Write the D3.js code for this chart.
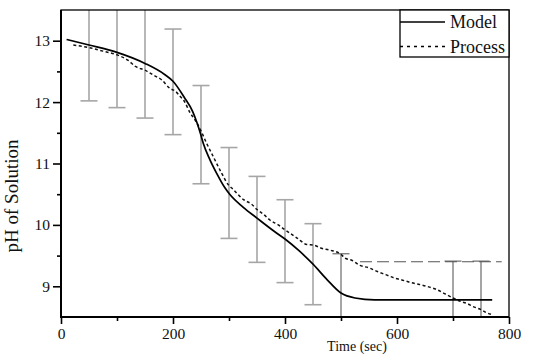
<!DOCTYPE html>
<html>
<head>
<meta charset="utf-8">
<script src="https://cdn.jsdelivr.net/npm/d3@7"></script>
<style>
  body { margin: 0; background: #fff; }
  svg text { font-family: "Liberation Serif", "Times New Roman", serif !important; fill: #111; }
</style>
</head>
<body>
<div class="container"></div>
<script>
var width = 533;
var height = 364;
var margin = {top: 10, right: 24, bottom: 47, left: 61};

// model curve
var modelTime = [10, 50, 100, 150, 185, 200, 220, 235, 243, 249, 254, 266, 278, 293, 302, 325, 350, 380, 400, 425, 450, 475, 500, 525, 560, 600, 700, 770];
var modelPH = [13.02, 12.93, 12.81, 12.63, 12.45, 12.34, 12.08, 11.85, 11.66, 11.49, 11.33, 11.06, 10.84, 10.60, 10.49, 10.29, 10.11, 9.90, 9.77, 9.58, 9.36, 9.11, 8.89, 8.81, 8.78, 8.78, 8.78, 8.78];

// process measurements
var procTime = [22, 49, 75, 100, 120, 133, 150, 165, 180, 195, 204, 213, 219, 231, 240, 249, 260, 272, 287, 300, 305, 326, 340, 350, 362, 373, 388, 400, 421, 439, 451, 465, 480, 500, 507, 520, 534, 550, 565, 580, 594, 610, 625, 640, 653, 670, 685, 700, 712, 725, 736, 750, 760, 769];
var procPH = [12.93, 12.89, 12.83, 12.77, 12.68, 12.58, 12.52, 12.44, 12.36, 12.22, 12.18, 12.09, 12.03, 11.82, 11.70, 11.55, 11.33, 11.11, 10.84, 10.64, 10.60, 10.41, 10.34, 10.25, 10.17, 10.08, 10.00, 9.92, 9.79, 9.68, 9.67, 9.62, 9.59, 9.52, 9.46, 9.42, 9.34, 9.30, 9.24, 9.19, 9.14, 9.10, 9.06, 9.03, 9.00, 8.95, 8.88, 8.81, 8.76, 8.72, 8.67, 8.62, 8.57, 8.54];

// error bars
var errTime = [50, 100, 150, 200, 250, 300, 350, 400, 450, 500, 700, 750];
var errHigh = [13.9, 13.75, 13.6, 13.19, 12.27, 11.26, 10.79, 10.41, 10.02, 9.53, 9.41, 9.41];
var errLow = [12.02, 11.91, 11.74, 11.47, 10.67, 9.78, 9.39, 9.06, 8.70, 8.3, 8.3, 8.3];

// dashed limit line
var limitTime = [534, 787];
var limitPH = 9.40;

var xTicks = [0, 200, 400, 600, 800];
var xMinor = [100, 300, 500, 700];
var yTicks = [9, 10, 11, 12, 13];
var yMinor = [9.5, 10.5, 11.5, 12.5];
var legendLabels = ["Model", "Process"];

var serif = "'Liberation Serif', 'Times New Roman', serif";
var xScale = d3.scaleLinear().domain([0, 800]).range([margin.left, width - margin.right]);
var yScale = d3.scaleLinear().domain([8.5, 13.5]).range([height - margin.bottom, margin.top]);

var svg = d3.select(".container")
  .append("svg")
  .attr("width", width).attr("height", height);

svg.append("defs").append("clipPath").attr("id", "plot-clip")
  .append("rect")
  .attr("x", margin.left).attr("y", margin.top)
  .attr("width", width - margin.left - margin.right)
  .attr("height", height - margin.top - margin.bottom);

var plot = svg.append("g").attr("clip-path", "url(#plot-clip)");

//-----------------------------------------
// 1. ERROR BARS
var capW = 8.5;
var bars = plot.selectAll(".err")
  .data(errTime.map((t, i) => ({t: t, hi: errHigh[i], lo: errLow[i]})))
  .enter().append("g").attr("class", "err")
  .attr("stroke", d => d.t >= 500 ? "#6a6a6a" : "#a6a6a6")
  .attr("stroke-width", d => d.t >= 500 ? 1.2 : 1.6);

bars.append("line")
  .attr("x1", d => xScale(d.t)).attr("x2", d => xScale(d.t))
  .attr("y1", d => yScale(d.hi)).attr("y2", d => yScale(d.lo));
bars.append("line")
  .attr("x1", d => xScale(d.t) - capW).attr("x2", d => xScale(d.t) + capW)
  .attr("y1", d => yScale(d.hi)).attr("y2", d => yScale(d.hi));
bars.append("line")
  .attr("x1", d => xScale(d.t) - capW).attr("x2", d => xScale(d.t) + capW)
  .attr("y1", d => yScale(d.lo)).attr("y2", d => yScale(d.lo));

plot.append("line")
  .attr("x1", xScale(limitTime[0])).attr("x2", xScale(limitTime[1]))
  .attr("y1", yScale(limitPH)).attr("y2", yScale(limitPH))
  .attr("stroke", "#555").attr("stroke-width", 1.1)
  .attr("stroke-dasharray", "12,5");

//-----------------------------------------
// 2. CURVES
var line = d3.line()
  .x(d => xScale(d[0])).y(d => yScale(d[1]))
  .curve(d3.curveMonotoneX);

plot.append("path")
  .datum(procTime.map((t, i) => [t, procPH[i]]))
  .attr("d", line)
  .attr("fill", "none").attr("stroke", "#111")
  .attr("stroke-width", 1.5)
  .attr("stroke-dasharray", "3,2.5");

plot.append("path")
  .datum(modelTime.map((t, i) => [t, modelPH[i]]))
  .attr("d", line)
  .attr("fill", "none").attr("stroke", "#000")
  .attr("stroke-width", 1.7);

//-----------------------------------------
// 3. AXES
var xAxis = d3.axisBottom(xScale).tickValues(xTicks).tickSize(7).tickPadding(4).tickFormat(d3.format("d"));
var xAxisMinor = d3.axisBottom(xScale).tickValues(xMinor).tickSize(4).tickFormat("");
var yAxis = d3.axisLeft(yScale).tickValues(yTicks).tickSize(8).tickPadding(3).tickFormat(d3.format("d"));
var yAxisMinor = d3.axisLeft(yScale).tickValues(yMinor).tickSize(4).tickFormat("");

var gx = svg.append("g").attr("transform", "translate(0," + (height - margin.bottom) + ")");
gx.call(xAxis);
gx.append("g").call(xAxisMinor);
var gy = svg.append("g").attr("transform", "translate(" + margin.left + ",0)");
gy.call(yAxis);
gy.append("g").call(yAxisMinor);

svg.selectAll(".domain").remove();
svg.selectAll("g").attr("font-family", serif);
svg.selectAll(".tick line").attr("stroke", "#000").attr("stroke-width", 1.6);
svg.selectAll(".tick text").attr("font-family", serif).attr("font-size", 15.5).attr("fill", "#111");

// frame
svg.append("rect")
  .attr("x", margin.left).attr("y", margin.top)
  .attr("width", width - margin.left - margin.right)
  .attr("height", height - margin.top - margin.bottom)
  .attr("fill", "none").attr("stroke", "#000").attr("stroke-width", 1.3);
svg.append("path")
  .attr("d", "M" + margin.left + "," + margin.top + "V" + (height - margin.bottom) + "H" + (width - margin.right))
  .attr("fill", "none").attr("stroke", "#000").attr("stroke-width", 2);

svg.append("text")
  .attr("x", 357).attr("y", 351)
  .attr("text-anchor", "middle")
  .attr("font-family", serif).attr("font-size", 14)
  .text("Time (sec)");

svg.append("text")
  .attr("transform", "translate(18,196) rotate(-90)")
  .attr("text-anchor", "middle")
  .attr("font-family", serif).attr("font-size", 19)
  .text("pH of Solution");

//-----------------------------------------
// 4. LEGEND
var lg = svg.append("g");
lg.append("rect")
  .attr("x", 400).attr("y", margin.top)
  .attr("width", width - margin.right - 400).attr("height", 47)
  .attr("fill", "#fff").attr("stroke", "#000").attr("stroke-width", 1.3);

var lgRow = lg.selectAll(".lg-row")
  .data(legendLabels)
  .enter().append("g").attr("class", "lg-row")
  .attr("transform", (d, i) => "translate(400," + (22 + i * 24.5) + ")");

lgRow.append("line")
  .attr("x1", 0).attr("x2", 45).attr("y1", 0).attr("y2", 0)
  .attr("stroke", "#000").attr("stroke-width", 1.3)
  .attr("stroke-dasharray", (d, i) => i == 1 ? "3,4" : null);

lgRow.append("text")
  .attr("x", 50).attr("y", 6)
  .attr("font-family", serif).attr("font-size", 18)
  .text(d => d);
</script>
</body>
</html>
